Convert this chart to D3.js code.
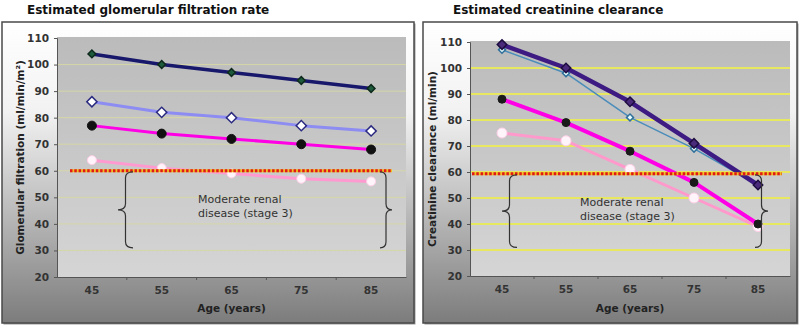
<!DOCTYPE html>
<html>
<head>
<meta charset="utf-8">
<script src="https://cdn.jsdelivr.net/npm/d3@7"></script>
<style>
  body { margin: 0; background: #fff; }
  text { font-family: "DejaVu Sans", Verdana, sans-serif; }
</style>
</head>
<body>
<script>
(function () {
  'use strict';

  // categories and ticks
  const ages = [45, 55, 65, 75, 85];
  const yTicks = [20, 30, 40, 50, 60, 70, 80, 90, 100, 110];

  // estimated glomerular filtration rate (left)
  const gfrLine1 = [104, 100, 97, 94, 91];
  const gfrLine2 = [86, 82, 80, 77, 75];
  const gfrLine3 = [77, 74, 72, 70, 68];
  const gfrLine4 = [64, 61, 59, 57, 56];
  const gfrThreshold = 60;

  // estimated creatinine clearance (right)
  const crclLine1 = [109, 100, 87, 71, 55];
  const crclLine2 = [107, 98, 81, 69, 55];
  const crclLine3 = [88, 79, 68, 56, 40];
  const crclLine4 = [75, 72, 61, 50, 39];
  const crclThreshold = 59.3;

  const stageLow = 31; // bottom of the brace

  const svg = d3.select('body')
    .append('svg')
    .attr('width', 800)
    .attr('height', 327);

  const defs = svg.append('defs');
  const fg = defs.append('linearGradient').attr('id', 'frameGrad')
    .attr('x1', 0).attr('y1', 0).attr('x2', 0).attr('y2', 1);
  fg.append('stop').attr('offset', '0%').attr('stop-color', '#ffffff');
  fg.append('stop').attr('offset', '30%').attr('stop-color', '#f2f2f2');
  fg.append('stop').attr('offset', '100%').attr('stop-color', '#7c7c7c');
  const pg = defs.append('linearGradient').attr('id', 'plotGrad')
    .attr('x1', 0).attr('y1', 0).attr('x2', 0).attr('y2', 1);
  pg.append('stop').attr('offset', '0%').attr('stop-color', '#bbbbbb');
  pg.append('stop').attr('offset', '100%').attr('stop-color', '#d5d5d5');

  const panels = [
    {
      title: 'Estimated  glomerular filtration rate', titleX: 27,
      yTitle: 'Glomerular filtration (ml/min/m\u00b2)', yTitleX: 20,
      frame: [2, 22, 414, 323],
      plot: { left: 57, right: 406, top: 38, bottom: 277 },
      grid: { color: '#d6d6a8', width: 1 },
      threshold: gfrThreshold, dotted: [70, 392],
      braces: [[133, 118], [380, 392]],
      note: [198, 203],
      series: [
        { values: gfrLine1, color: '#17176b', width: 3.5, marker: 'diamond', mfill: '#1e5b3c', mstroke: '#0d2a1c', msize: 30 },
        { values: gfrLine2, color: '#8d8cf2', width: 3, marker: 'diamond', mfill: '#ffffff', mstroke: '#2a2a80', msize: 52 },
        { values: gfrLine3, color: '#ff00e6', width: 3, marker: 'circle', mfill: '#111111', mstroke: '#111111', msize: 4.5 },
        { values: gfrLine4, color: '#ff9ad0', width: 3, marker: 'circle', mfill: '#fff4fa', mstroke: '#ffd0e8', msize: 4.5 }
      ]
    },
    {
      title: 'Estimated creatinine clearance', titleX: 453,
      yTitle: 'Creatinine clearance (ml/min)', yTitleX: 432,
      frame: [423, 22, 797, 323],
      plot: { left: 470, right: 790, top: 42, bottom: 276 },
      grid: { color: '#e8e860', width: 2 },
      threshold: crclThreshold, dotted: [472, 782],
      braces: [[517, 502], [755, 768]],
      note: [580, 206],
      series: [
        { values: crclLine1, color: '#3d1b82', width: 4.5, marker: 'diamond', mfill: '#4a2a7a', mstroke: '#1e0d40', msize: 45 },
        { values: crclLine2, color: '#4a8cba', width: 1.5, marker: 'diamond', mfill: '#e8ffff', mstroke: '#2f6f9a', msize: 24 },
        { values: crclLine3, color: '#ff00e6', width: 4, marker: 'circle', mfill: '#1a1a1a', mstroke: '#1a1a1a', msize: 4 },
        { values: crclLine4, color: '#ff99cc', width: 3, marker: 'circle', mfill: '#fff4fa', mstroke: '#ffd0e8', msize: 5 }
      ]
    }
  ];

  function bracePath(xArm, xTip, y0, y1) {
    const xm = (xArm + xTip) / 2;
    const ym = (y0 + y1) / 2;
    const r = 6;
    return `M${xArm},${y0} Q${xm},${y0} ${xm},${y0 + r} L${xm},${ym - r} Q${xm},${ym} ${xTip},${ym}` +
      ` Q${xm},${ym} ${xm},${ym + r} L${xm},${y1 - r} Q${xm},${y1} ${xArm},${y1}`;
  }

  panels.forEach(p => {
    const g = svg.append('g');

    // frame
    const [fx0, fy0, fx1, fy1] = p.frame;
    g.append('rect')
      .attr('x', fx0 + 1.5).attr('y', fy0 + 1.5)
      .attr('width', fx1 - fx0).attr('height', fy1 - fy0)
      .attr('fill', '#9a9a9a');
    g.append('rect')
      .attr('x', fx0).attr('y', fy0)
      .attr('width', fx1 - fx0).attr('height', fy1 - fy0)
      .attr('fill', 'url(#frameGrad)')
      .attr('stroke', '#4a4a4a').attr('stroke-width', 1.5);

    // title
    svg.append('text')
      .attr('x', p.titleX).attr('y', 14)
      .attr('font-size', 12).attr('font-weight', 'bold')
      .attr('fill', '#111')
      .text(p.title);

    const x = d3.scaleBand().domain(ages).range([p.plot.left, p.plot.right]);
    const y = d3.scaleLinear().domain([20, 110]).range([p.plot.bottom, p.plot.top]);

    g.append('rect')
      .attr('x', p.plot.left).attr('y', p.plot.top - 1)
      .attr('width', p.plot.right - p.plot.left)
      .attr('height', p.plot.bottom - p.plot.top + 1)
      .attr('fill', 'url(#plotGrad)');

    // gridlines
    g.append('g').selectAll('line')
      .data(yTicks.filter(t => t > 20 && t < 110))
      .enter().append('line')
      .attr('x1', p.plot.left).attr('x2', p.plot.right)
      .attr('y1', d => y(d)).attr('y2', d => y(d))
      .attr('stroke', p.grid.color).attr('stroke-width', p.grid.width);

    // axes
    const yAxis = d3.axisLeft(y).tickValues(yTicks).tickSize(3).tickPadding(5);
    const ya = g.append('g').attr('transform', `translate(${p.plot.left},0)`).call(yAxis);
    ya.select('.domain').attr('stroke', '#555');
    ya.selectAll('.tick line').attr('stroke', '#555');
    ya.selectAll('.tick text')
      .attr('font-size', 10.5).attr('fill', '#333').attr('font-weight', 'bold')
      .attr('font-family', '"DejaVu Sans", Verdana, sans-serif');

    const xAxis = d3.axisBottom(x).tickSize(0).tickPadding(10);
    const xa = g.append('g').attr('transform', `translate(0,${p.plot.bottom})`).call(xAxis);
    xa.select('.domain').attr('stroke', '#555');
    xa.selectAll('.tick text')
      .attr('font-size', 10.5).attr('fill', '#333').attr('font-weight', 'bold')
      .attr('font-family', '"DejaVu Sans", Verdana, sans-serif');
    // category separators
    g.append('g').selectAll('line')
      .data(ages.slice(1))
      .enter().append('line')
      .attr('x1', d => x(d)).attr('x2', d => x(d))
      .attr('y1', p.plot.bottom).attr('y2', p.plot.bottom + 3)
      .attr('stroke', '#555');

    // axis titles
    g.append('text')
      .attr('x', (p.plot.left + p.plot.right) / 2)
      .attr('y', 312)
      .attr('text-anchor', 'middle')
      .attr('font-size', 10.5).attr('font-weight', 'bold').attr('fill', '#222')
      .text('Age (years)');
    g.append('text')
      .attr('transform', `translate(${p.yTitleX},${(p.plot.top + p.plot.bottom) / 2}) rotate(-90)`)
      .attr('text-anchor', 'middle').attr('dy', '0.35em')
      .attr('font-size', 10.5).attr('font-weight', 'bold').attr('fill', '#222')
      .text(p.yTitle);

    // lines
    const cx = a => x(a) + x.bandwidth() / 2;
    const line = d3.line().x(d => cx(d[0])).y(d => y(d[1]));

    p.series.slice().reverse().forEach(s => {
      const pts = ages.map((a, i) => [a, s.values[i]]);
      g.append('path')
        .attr('d', line(pts))
        .attr('fill', 'none')
        .attr('stroke', s.color)
        .attr('stroke-width', s.width)
        .attr('stroke-linejoin', 'round');
      if (s.marker === 'circle') {
        g.append('g').selectAll('circle')
          .data(pts).enter().append('circle')
          .attr('cx', d => cx(d[0])).attr('cy', d => y(d[1]))
          .attr('r', s.msize)
          .attr('fill', s.mfill).attr('stroke', s.mstroke).attr('stroke-width', 1);
      } else {
        // square turned 45deg, like the spreadsheet diamond
        const sym = d3.symbol().type(d3.symbolSquare).size(s.msize);
        g.append('g').selectAll('path')
          .data(pts).enter().append('path')
          .attr('transform', d => `translate(${cx(d[0])},${y(d[1])}) rotate(45)`)
          .attr('d', sym)
          .attr('fill', s.mfill).attr('stroke', s.mstroke).attr('stroke-width', 1.5);
      }
    });

    // threshold dotted line
    g.append('line')
      .attr('x1', p.dotted[0]).attr('x2', p.dotted[1])
      .attr('y1', y(p.threshold)).attr('y2', y(p.threshold))
      .attr('stroke', '#f0c020').attr('stroke-width', 3);
    g.append('line')
      .attr('x1', p.dotted[0]).attr('x2', p.dotted[1])
      .attr('y1', y(p.threshold)).attr('y2', y(p.threshold))
      .attr('stroke', '#e01818').attr('stroke-width', 3)
      .attr('stroke-dasharray', '2.5,1.8');

    // braces + note
    p.braces.forEach(b => {
      g.append('path')
        .attr('d', bracePath(b[0], b[1], y(p.threshold) + 1, y(stageLow)))
        .attr('fill', 'none').attr('stroke', '#333').attr('stroke-width', 1.2);
    });
    const note = g.append('text')
      .attr('x', p.note[0]).attr('y', p.note[1])
      .attr('font-size', 11).attr('fill', '#333');
    note.append('tspan').attr('x', p.note[0]).text('Moderate renal');
    note.append('tspan').attr('x', p.note[0]).attr('dy', 14).text('disease (stage 3)');
  });
})();
</script>
</body>
</html>
